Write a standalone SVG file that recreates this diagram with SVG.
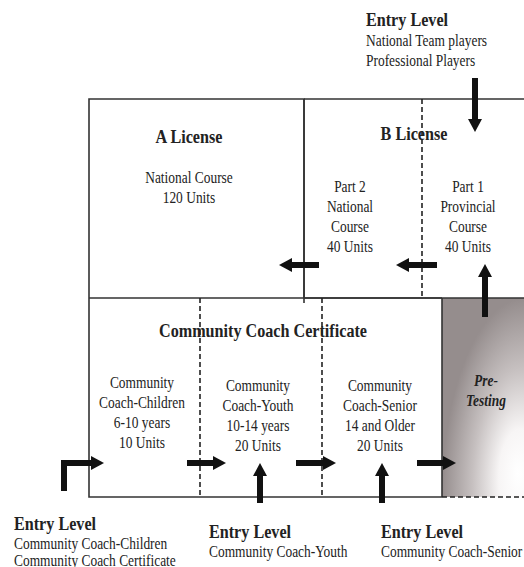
<svg xmlns="http://www.w3.org/2000/svg" width="524" height="567" viewBox="0 0 524 567">
<style>
.t{font-family:"Liberation Serif","Times New Roman",serif;fill:#222;}
.h{font-size:19px;font-weight:bold;}
.b{font-size:15.8px;}
.c{text-anchor:middle;}
.pt{font-size:15.8px;font-weight:bold;font-style:italic;}
.box{fill:none;stroke:#333;stroke-width:1.6;}
.dash{fill:none;stroke:#222;stroke-width:1.6;stroke-dasharray:5,3;}
.arr{fill:none;stroke:#111;stroke-width:6;marker-end:url(#ah);}
</style>
<defs>
<marker id="ah" markerUnits="userSpaceOnUse" markerWidth="16" markerHeight="16" viewBox="0 -8 14 16" refX="0" refY="0" orient="auto">
<path d="M0,-7 L13,0 L0,7 z" fill="#111"/>
</marker>
<radialGradient id="g" cx="1" cy="1" r="1.0" fx="0.9" fy="0.88">
<stop offset="0" stop-color="#ffffff"/>
<stop offset="0.25" stop-color="#f7f5f5"/>
<stop offset="0.6" stop-color="#c6c0c0"/>
<stop offset="1" stop-color="#958d8d"/>
</radialGradient>
</defs>
<rect width="524" height="567" fill="#fff"/>

<g id="pretesting">
<rect x="442" y="298" width="84" height="199" fill="url(#g)"/>
<line x1="442" y1="298" x2="442" y2="497" class="box"/>
<line x1="442" y1="497" x2="524" y2="497" class="dash"/>
<text class="t pt c" transform="scale(0.85,1)" x="571.76" y="386">Pre-</text>
<text class="t pt c" transform="scale(0.85,1)" x="571.76" y="406">Testing</text>
</g>

<g id="a-license">
<path d="M89,298 V99 H304 V298" class="box"/>
<text class="t h c" transform="scale(0.85,1)" x="222.35" y="143">A License</text>
<text class="t b c" transform="scale(0.85,1)" x="222.35" y="183">National Course</text>
<text class="t b c" transform="scale(0.85,1)" x="222.35" y="203">120 Units</text>
</g>

<g id="b-license">
<path d="M304,99 H526 M304,99 V303 M304,298 H526" class="box"/>
<line x1="422" y1="99" x2="422" y2="298" class="dash"/>
<text class="t h c" transform="scale(0.85,1)" x="487.06" y="140">B License</text>
<text class="t b c" transform="scale(0.85,1)" x="411.76" y="192">Part 2</text>
<text class="t b c" transform="scale(0.85,1)" x="411.76" y="212">National</text>
<text class="t b c" transform="scale(0.85,1)" x="411.76" y="232">Course</text>
<text class="t b c" transform="scale(0.85,1)" x="411.76" y="252">40 Units</text>
<text class="t b c" transform="scale(0.85,1)" x="550.59" y="192">Part 1</text>
<text class="t b c" transform="scale(0.85,1)" x="550.59" y="212">Provincial</text>
<text class="t b c" transform="scale(0.85,1)" x="550.59" y="232">Course</text>
<text class="t b c" transform="scale(0.85,1)" x="550.59" y="252">40 Units</text>
</g>

<g id="community">
<path d="M89,298 H442 M89,298 V497 H442" class="box"/>
<line x1="200" y1="298" x2="200" y2="497" class="dash"/>
<line x1="322" y1="298" x2="322" y2="497" class="dash"/>
<text class="t h c" transform="scale(0.85,1)" x="309.41" y="337">Community Coach Certificate</text>
<text class="t b c" transform="scale(0.85,1)" x="167.06" y="388">Community</text>
<text class="t b c" transform="scale(0.85,1)" x="167.06" y="408">Coach-Children</text>
<text class="t b c" transform="scale(0.85,1)" x="167.06" y="428">6-10 years</text>
<text class="t b c" transform="scale(0.85,1)" x="167.06" y="448">10 Units</text>
<text class="t b c" transform="scale(0.85,1)" x="303.53" y="391">Community</text>
<text class="t b c" transform="scale(0.85,1)" x="303.53" y="411">Coach-Youth</text>
<text class="t b c" transform="scale(0.85,1)" x="303.53" y="431">10-14 years</text>
<text class="t b c" transform="scale(0.85,1)" x="303.53" y="451">20 Units</text>
<text class="t b c" transform="scale(0.85,1)" x="447.06" y="391">Community</text>
<text class="t b c" transform="scale(0.85,1)" x="447.06" y="411">Coach-Senior</text>
<text class="t b c" transform="scale(0.85,1)" x="447.06" y="431">14 and Older</text>
<text class="t b c" transform="scale(0.85,1)" x="447.06" y="451">20 Units</text>
</g>

<g id="entry-top">
<text class="t h" transform="scale(0.85,1)" x="430.59" y="26">Entry Level</text>
<text class="t b" transform="scale(0.85,1)" x="430.59" y="46">National Team players</text>
<text class="t b" transform="scale(0.85,1)" x="430.59" y="66">Professional Players</text>
</g>
<g id="entry-children">
<text class="t h" transform="scale(0.85,1)" x="16.47" y="530">Entry Level</text>
<text class="t b" transform="scale(0.85,1)" x="16.47" y="549">Community Coach-Children</text>
<text class="t b" transform="scale(0.85,1)" x="16.47" y="566">Community Coach Certificate</text>
</g>
<g id="entry-youth">
<text class="t h" transform="scale(0.85,1)" x="245.88" y="538">Entry Level</text>
<text class="t b" transform="scale(0.85,1)" x="245.88" y="557">Community Coach-Youth</text>
</g>
<g id="entry-senior">
<text class="t h" transform="scale(0.85,1)" x="448.24" y="538">Entry Level</text>
<text class="t b" transform="scale(0.85,1)" x="448.24" y="557">Community Coach-Senior</text>
</g>

<g id="connectors">
<line x1="475" y1="78" x2="475" y2="119" class="arr"/>
<line x1="319" y1="265" x2="292" y2="265" class="arr"/>
<line x1="437" y1="265" x2="409" y2="265" class="arr"/>
<line x1="485" y1="317" x2="485" y2="277" class="arr"/>
<path d="M64,491 V463 H91" class="arr" stroke-linejoin="miter"/>
<line x1="187" y1="463" x2="213" y2="463" class="arr"/>
<line x1="296" y1="463" x2="323" y2="463" class="arr"/>
<line x1="417" y1="463" x2="443" y2="463" class="arr"/>
<line x1="260" y1="503" x2="260" y2="476" class="arr"/>
<line x1="382" y1="503" x2="382" y2="476" class="arr"/>
</g>
</svg>
